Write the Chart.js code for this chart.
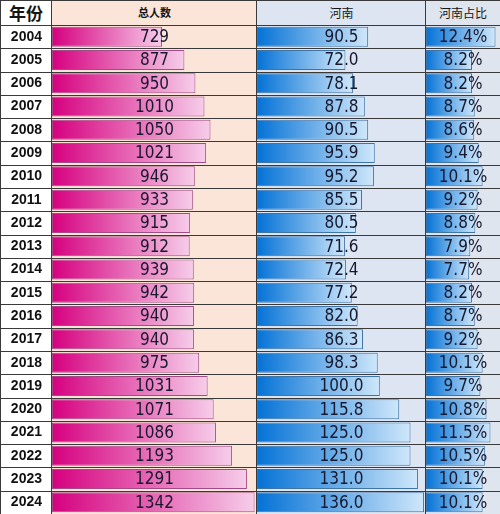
<!DOCTYPE html>
<html>
<head>
<meta charset="utf-8">
<script src="https://cdn.jsdelivr.net/npm/chart.js@4/dist/chart.umd.min.js"></script>
<style>
  html, body { margin: 0; padding: 0; background: #fff; }
  #wrap { position: relative; width: 500px; height: 514px; overflow: hidden; font-family: "Noto Sans CJK SC", sans-serif; }
  .bg { position: absolute; top: 0; bottom: 0; }
  .hd { position: absolute; top: 0; height: 25px; line-height: 25px; text-align: center; color: #151515; }
  canvas { position: absolute; top: 25px; }
  .vl { position: absolute; top: 0; bottom: 0; width: 1px; background: #3a3a3a; }
  .hl { position: absolute; left: 0; right: 0; height: 1px; background: #3a3a3a; }
</style>
</head>
<body>
<div id="wrap">
  <div class="bg" style="left:0;width:52px;background:#ffffff"></div>
  <div class="bg" style="left:52px;width:205px;background:#fbe5d9"></div>
  <div class="bg" style="left:257px;width:169px;background:#dce5f1"></div>
  <div class="bg" style="left:426px;width:74px;background:#dfe5ef"></div>

  <div class="hd" style="left:0;width:52px;font-size:17px;font-weight:bold">年份</div>
  <div class="hd" style="left:52px;width:205px;font-size:11px;font-weight:bold">总人数</div>
  <div class="hd" style="left:257px;width:169px;font-size:12px">河南</div>
  <div class="hd" style="left:426px;width:74px;font-size:12px">河南占比</div>

  <canvas id="c1" width="257" height="489" style="left:0"></canvas>
  <canvas id="c2" width="169" height="489" style="left:257px"></canvas>
  <canvas id="c3" width="74" height="489" style="left:426px"></canvas>

  <div class="hl" style="top:0"></div>
  <div class="vl" style="left:0"></div>
  <div class="vl" style="left:51px"></div>
  <div class="vl" style="left:256px"></div>
  <div class="vl" style="left:425px"></div>
</div>

<script>
const years = ['2004', '2005', '2006', '2007', '2008', '2009', '2010', '2011', '2012', '2013', '2014',
  '2015', '2016', '2017', '2018', '2019', '2020', '2021', '2022', '2023', '2024'];
const totalCount = [729, 877, 950, 1010, 1050, 1021, 946, 933, 915, 912, 939,
  942, 940, 940, 975, 1031, 1071, 1086, 1193, 1291, 1342];
const henanCount = [90.5, 72.0, 78.1, 87.8, 90.5, 95.9, 95.2, 85.5, 80.5, 71.6, 72.4,
  77.2, 82.0, 86.3, 98.3, 100.0, 115.8, 125.0, 125.0, 131.0, 136.0];
const henanShare = [12.4, 8.2, 8.2, 8.7, 8.6, 9.4, 10.1, 9.2, 8.8, 7.9, 7.7,
  8.2, 8.7, 9.2, 10.1, 9.7, 10.8, 11.5, 10.5, 10.1, 10.1];

const valueFont = '17px "DejaVu Sans Condensed", "DejaVu Sans", sans-serif';

// linhas horizontais entre as linhas da tabela
const rowLines = {
  id: 'rowLines',
  afterDraw(chart) {
    const c = chart.ctx;
    const y = chart.scales.y;
    const n = chart.data.labels.length;
    const step = (y.bottom - y.top) / n;
    c.save();
    c.strokeStyle = '#3a3a3a';
    c.lineWidth = 1;
    for (let i = 0; i < n; i++) {
      const py = Math.round(y.top + i * step) + 0.5;
      c.beginPath();
      c.moveTo(0, py);
      c.lineTo(chart.width, py);
      c.stroke();
    }
    c.restore();
  }
};

// texto do valor centralizado na coluna
const valueText = {
  id: 'valueText',
  afterDatasetsDraw(chart, args, opts) {
    const c = chart.ctx;
    const area = chart.chartArea;
    const meta = chart.getDatasetMeta(0);
    const ds = chart.data.datasets[0];
    c.save();
    c.font = valueFont;
    c.fillStyle = '#18182e';
    c.textAlign = 'center';
    c.textBaseline = 'middle';
    meta.data.forEach((bar, i) => {
      c.fillText(opts.fmt(ds.data[i]), (area.left + area.right) / 2, bar.y + 1);
    });
    c.restore();
  }
};

function makeGradient(from, to) {
  return (ctx) => {
    const chart = ctx.chart;
    if (!chart.chartArea) return from;
    const x = chart.scales.x;
    const x0 = x.getPixelForValue(0);
    const x1 = x.getPixelForValue(ctx.raw);
    const g = chart.ctx.createLinearGradient(x0, 0, Math.max(x1, x0 + 1), 0);
    g.addColorStop(0, from);
    g.addColorStop(1, to);
    return g;
  };
}

function makeColumn(id, values, max, from, to, border, fmt, showYears) {
  const yAxis = {
    display: showYears,
    grid: { display: false, drawTicks: false },
    border: { display: false },
    ticks: {
      crossAlign: 'center',
      padding: 10,
      color: '#111',
      font: { family: '"Liberation Sans", Arial, sans-serif', size: 14, weight: 'bold' }
    }
  };
  if (showYears) {
    yAxis.afterFit = (s) => {
      s.width = 52;
      s.paddingTop = 0;
      s.paddingBottom = 0;
    };
  }
  return new Chart(document.getElementById(id).getContext('2d'), {
    type: 'bar',
    data: {
      labels: years,
      datasets: [{
        data: values,
        backgroundColor: makeGradient(from, to),
        borderColor: border,
        borderWidth: 1,
        borderSkipped: false,
        barPercentage: 0.86,
        categoryPercentage: 1
      }]
    },
    options: {
      indexAxis: 'y',
      responsive: false,
      animation: false,
      layout: { padding: 0 },
      plugins: {
        legend: { display: false },
        tooltip: { enabled: false },
        valueText: { fmt }
      },
      scales: {
        x: { display: false, min: 0, max: max },
        y: yAxis
      }
    },
    plugins: [rowLines, valueText]
  });
}

makeColumn('c1', totalCount, 1358, '#d6007f', '#f6cdea', '#a34b86', v => String(v), true);
makeColumn('c2', henanCount, 137.6, '#0472d6', '#cfe7fa', '#3f74a6', v => v.toFixed(1), false);
makeColumn('c3', henanShare, 13.2, '#0472d6', '#cfe7fa', '#3f74a6', v => v.toFixed(1) + '%', false);
</script>
</body>
</html>
